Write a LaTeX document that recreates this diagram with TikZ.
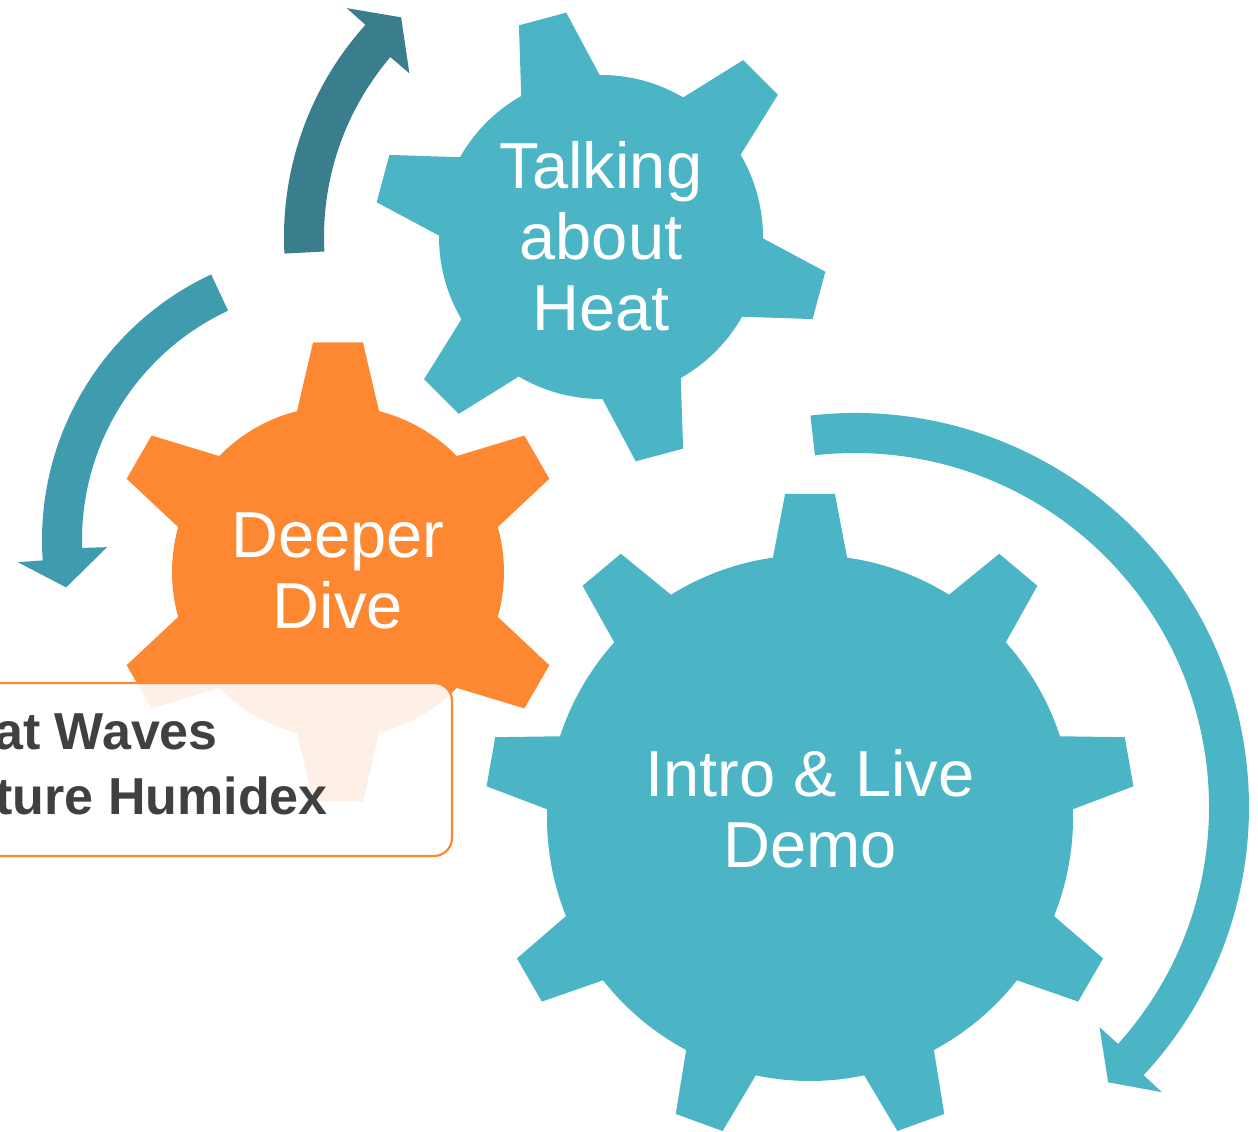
\documentclass[tikz,border=0pt]{standalone}
\usepackage{fontspec}
\setmainfont{Liberation Sans}

\definecolor{gearteal}{RGB}{75,181,198}
\definecolor{gearorange}{RGB}{254,136,50}
\definecolor{arrowdark}{RGB}{58,126,142}
\definecolor{arrowmid}{RGB}{63,155,174}
\definecolor{listgray}{RGB}{64,64,64}

% colour, centre, teeth, first tooth angle, body radius, tip radius, base half angle, tip half angle
\newcommand{\gearshape}[8]{%
  \fill[#1,shift={(#2)}] ({#4-#7}:#5)
    \foreach \k in {1,...,#3} {
      -- ({#4+(\k-1)*360/#3-#8}:#6) -- ({#4+(\k-1)*360/#3+#8}:#6)
      -- ({#4+(\k-1)*360/#3+#7}:#5)
      arc[start angle={#4+(\k-1)*360/#3+#7}, end angle={#4+\k*360/#3-#7}, radius=#5]
    } -- cycle;}

% colour, centre, radius, tail angle, outer head angle, inner head angle, tip angle
\newcommand{\turnarrow}[7]{%
  \fill[#1,shift={(#2)}] (#4:#3+20) arc[start angle=#4, end angle=#5, radius=#3+20]
    -- (#5:#3+45) -- (#7:#3) -- (#6:#3-45) -- (#6:#3-20)
    arc[start angle=#6, end angle=#4, radius=#3-20] -- cycle;}

\begin{document}
\begin{tikzpicture}[x=1pt,y=1pt,
    geartext/.style={text=white,align=center,inner sep=0pt,font=\fontsize{65}{71}\selectfont},
    listtext/.style={text=listgray,inner sep=0pt,font=\bfseries\fontsize{52}{65}\selectfont}]
    \useasboundingbox (0,0) rectangle (1258,1132);
    \clip (0,0) rectangle (1258,1132);

    % arrows
    \turnarrow{arrowdark}{601,895}{297}{183}{138}{139.5}{132.3}
    \turnarrow{arrowmid}{335,592}{273}{115}{184}{181.8}{190}
    \turnarrow{gearteal}{855,325}{374}{96.5}{-42.9}{-42}{-47.4}

    % gears
    \gearshape{gearteal}{810,314}{9}{90}{263}{325}{8.1}{4.4}
    \gearshape{gearteal}{601,895}{6}{105}{162}{227}{14.5}{6.2}
    \gearshape{gearorange}{338,560}{6}{90}{166}{231}{14.3}{6.2}

    \node (talking)[geartext] at (601,896) {Talking\\about\\Heat};
    \node (deeper)[geartext] at (338,561) {Deeper\\Dive};
    \node (intro)[geartext] at (810,323) {Intro \& Live\\Demo};

    % topic list
    \draw[gearorange,line width=2.2pt,fill=white,fill opacity=0.88,rounded corners=18pt]
        (-40,276) rectangle (452,449);
    \node (heatwaves)[listtext,anchor=base east] at (218,382) {at Waves};
    \node (humidex)[listtext,anchor=base east] at (328,317) {ture Humidex};
\end{tikzpicture}
\end{document}
